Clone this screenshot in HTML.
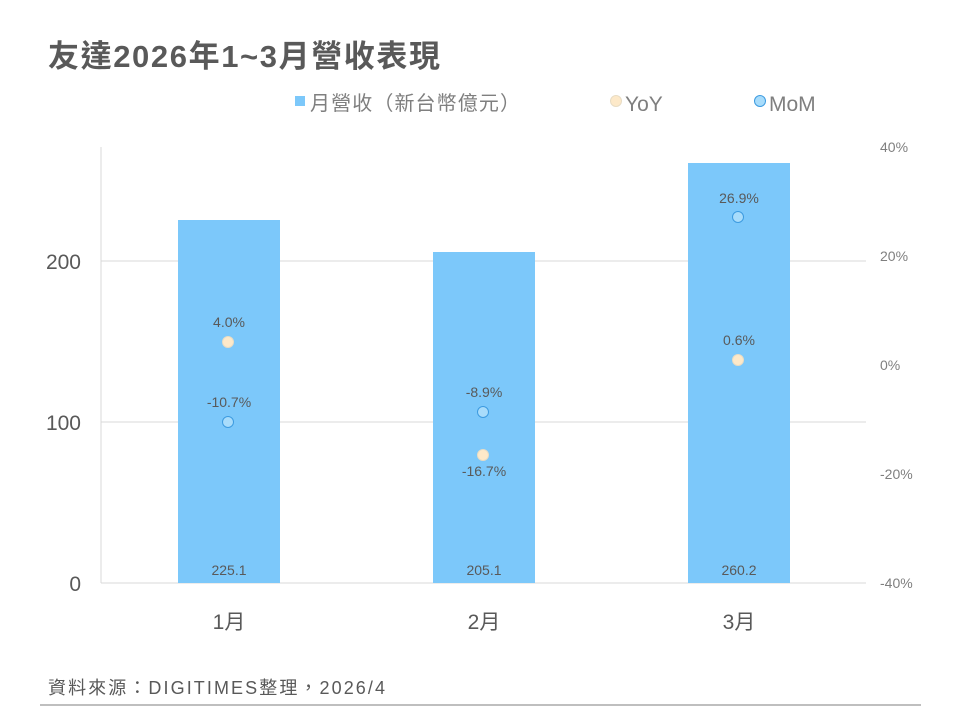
<!DOCTYPE html>
<html><head><meta charset="utf-8"><style>
body{margin:0;background:#fff;}
svg text{font-family:"Liberation Sans","Noto Sans CJK TC",sans-serif;}
</style></head><body>
<svg width="960" height="720" xmlns="http://www.w3.org/2000/svg">
<text x="48" y="67" font-size="31" font-weight="bold" fill="#595959" textLength="392">友達2026年1~3月營收表現</text>
<rect x="295" y="96" width="10" height="10" fill="#7cc8fa"/>
<text x="310" y="110" font-size="20" fill="#7f7f7f" textLength="210">月營收（新台幣億元）</text>
<circle cx="616" cy="101" r="5.5" fill="#fde9c9" stroke="#e8dcc4"/>
<text x="625" y="111" font-size="21" fill="#7f7f7f">YoY</text>
<circle cx="760" cy="101" r="5.5" fill="#a8dcfb" stroke="#3d9be0"/>
<text x="769" y="111" font-size="21" fill="#7f7f7f">MoM</text>
<line x1="101" y1="147" x2="101" y2="583" stroke="#d9d9d9"/>
<line x1="101" y1="261" x2="866" y2="261" stroke="#d9d9d9"/>
<line x1="101" y1="422" x2="866" y2="422" stroke="#d9d9d9"/>
<line x1="101" y1="583" x2="866" y2="583" stroke="#d9d9d9"/>
<g font-size="21" fill="#595959" text-anchor="end">
<text x="81" y="269">200</text><text x="81" y="430">100</text><text x="81" y="591">0</text></g>
<g font-size="14" fill="#7f7f7f" text-anchor="start">
<text x="880" y="152">40%</text><text x="880" y="261">20%</text><text x="880" y="370">0%</text>
<text x="880" y="479">-20%</text><text x="880" y="588">-40%</text></g>
<rect x="178" y="220" width="102" height="363" fill="#7cc8fa"/>
<rect x="433" y="252" width="102" height="331" fill="#7cc8fa"/>
<rect x="688" y="163" width="102" height="420" fill="#7cc8fa"/>
<g font-size="14" fill="#595959" text-anchor="middle">
<text x="229" y="575">225.1</text><text x="484" y="575">205.1</text><text x="739" y="575">260.2</text>
<text x="229" y="327">4.0%</text><text x="229" y="407">-10.7%</text>
<text x="484" y="397">-8.9%</text><text x="484" y="476">-16.7%</text>
<text x="739" y="203">26.9%</text><text x="739" y="345">0.6%</text>
</g>
<g fill="#fde9c9" stroke="#e8dcc4">
<circle cx="228" cy="342" r="5.5"/><circle cx="483" cy="455" r="5.5"/><circle cx="738" cy="360" r="5.5"/></g>
<g fill="#a8dcfb" stroke="#3d9be0">
<circle cx="228" cy="422" r="5.5"/><circle cx="483" cy="412" r="5.5"/><circle cx="738" cy="217" r="5.5"/></g>
<g font-size="21" fill="#595959" text-anchor="middle">
<text x="229" y="629">1月</text><text x="484" y="629">2月</text><text x="739" y="629">3月</text></g>
<text x="48" y="694" font-size="18" fill="#595959" textLength="337">資料來源：DIGITIMES整理，2026/4</text>
<line x1="40" y1="705" x2="921" y2="705" stroke="#7f7f7f"/>
</svg>
</body></html>
